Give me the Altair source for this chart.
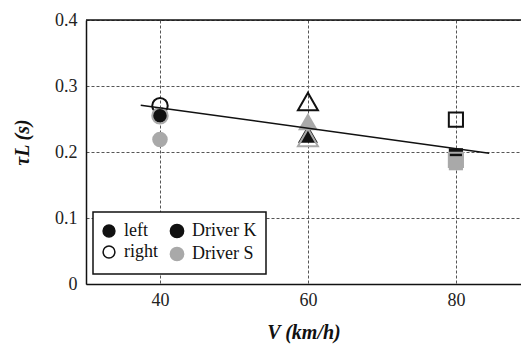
import altair as alt
import pandas as pd

# data
speed = [40, 40, 40, 40, 60, 60, 60, 60, 80, 80, 80, 80]
tau = [0.256, 0.270, 0.219, 0.255, 0.227, 0.2765, 0.246, 0.222, 0.195, 0.249, 0.183, 0.188]
driver = ["Driver K", "Driver K", "Driver S", "Driver S"] * 3
side = ["left", "right", "left", "right"] * 3

fit_v = [37.4, 84.5]
fit_tau = [0.271, 0.198]

df = pd.DataFrame({"V": speed, "tau": tau, "driver": driver, "side": side})
fit = pd.DataFrame({"V": fit_v, "tau": fit_tau})
box = pd.DataFrame({"k": [0]})

FONT = "Liberation Serif"
W, H = 435, 264

xs = alt.Scale(domain=[30, 88.8], nice=False, zero=False)
ys = alt.Scale(domain=[0, 0.4], nice=False, zero=False)
shape_scale = alt.Scale(domain=[40, 60, 80], range=["circle", "triangle-up", "square"])
size_scale = alt.Scale(type="ordinal", domain=[40, 60, 80], range=[240, 400, 200])
drv_scale = alt.Scale(domain=["Driver K", "Driver S"], range=["#111111", "#a9a9a9"])

xaxis = alt.Axis(values=[40, 60, 80], title="V (km/h)", ticks=False,
                 labelFont=FONT, labelFontSize=18, labelColor="#222",
                 labelPadding=7, titleFont=FONT, titleFontSize=20,
                 titleFontStyle="italic", titleFontWeight="bold", titleColor="#111",
                 titlePadding=13, domainColor="#111", domainWidth=1.5,
                 grid=True, gridColor="#555", gridDash=[3, 2], gridWidth=1)
yaxis = alt.Axis(values=[0, 0.1, 0.2, 0.3, 0.4], title="τL (s)", ticks=False,
                 labelExpr="datum.value == 0 ? '0' : format(datum.value, '.1f')",
                 labelFont=FONT, labelFontSize=18, labelColor="#222",
                 labelPadding=9, titleFont=FONT, titleFontSize=20,
                 titleFontStyle="italic", titleFontWeight="bold", titleColor="#111",
                 titlePadding=22, titleY=122, domainColor="#111", domainWidth=1.5,
                 grid=True, gridColor="#555", gridDash=[3, 2], gridWidth=1)

base = alt.Chart(df)

filled = base.transform_filter("datum.side == 'left'").mark_point(
    filled=True, opacity=1
).encode(
    x=alt.X("V:Q", scale=xs, axis=xaxis),
    y=alt.Y("tau:Q", scale=ys, axis=yaxis),
    shape=alt.Shape("V:N", scale=shape_scale, legend=None),
    size=alt.Size("V:N", scale=size_scale, legend=None),
    color=alt.Color("driver:N", scale=drv_scale, legend=alt.Legend(
        title=None, orient="none", legendX=82, legendY=202,
        labelFont=FONT, labelFontSize=18, labelColor="#111",
        symbolType="circle", symbolSize=175, rowPadding=3, labelOffset=6)),
)

opened = base.transform_filter("datum.side == 'right'").mark_point(
    filled=False, strokeWidth=2, opacity=1
).encode(
    x=alt.X("V:Q", scale=xs),
    y=alt.Y("tau:Q", scale=ys),
    shape=alt.Shape("V:N", scale=shape_scale, legend=None),
    size=alt.Size("V:N", scale=size_scale, legend=None),
    stroke=alt.Stroke("driver:N", scale=drv_scale, legend=None),
)

side_legend = base.transform_filter("false").mark_point(filled=True, opacity=1).encode(
    x=alt.X("V:Q", scale=xs),
    y=alt.Y("tau:Q", scale=ys),
    fill=alt.Fill("side:N", scale=alt.Scale(domain=["left", "right"], range=["#111111", "white"]),
                  legend=alt.Legend(
                      title=None, orient="none", legendX=14, legendY=202,
                      labelFont=FONT, labelFontSize=18, labelColor="#111",
                      symbolType="circle", symbolSize=140, symbolStrokeColor="#111",
                      symbolStrokeWidth=1.5, rowPadding=3, labelOffset=6)),
)

legend_box = alt.Chart(box).mark_rect(fill="white", stroke="#111", strokeWidth=1.5).encode(
    x=alt.value(7), x2=alt.value(180), y=alt.value(192), y2=alt.value(254)
)

top_border = alt.Chart(box).mark_rule(color="#111", strokeWidth=1.5).encode(
    x=alt.value(0), x2=alt.value(W), y=alt.value(0)
)

line = alt.Chart(fit).mark_line(color="#111", strokeWidth=1.5).encode(
    x=alt.X("V:Q", scale=xs), y=alt.Y("tau:Q", scale=ys)
)

chart = alt.layer(legend_box, filled, opened, side_legend, line, top_border).properties(
    width=W, height=H,
    padding={"left": 86, "top": 20, "right": 0, "bottom": 66},
    autosize=alt.AutoSizeParams(type="none"),
).configure_view(stroke=None).configure(background="white")

chart.save("out.html", embed_options={"renderer": "svg", "actions": False})
